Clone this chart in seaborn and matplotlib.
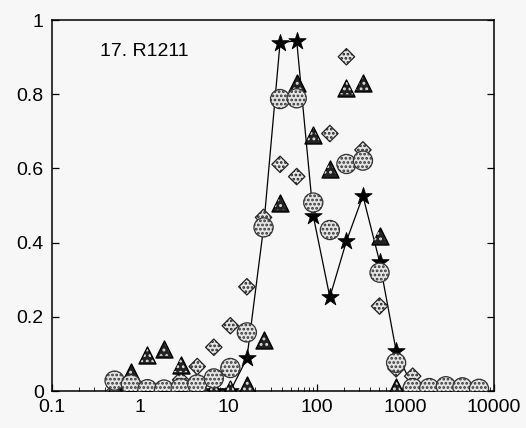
import numpy as np
import pandas as pd
import matplotlib
matplotlib.use("Agg")
import matplotlib.pyplot as plt
import seaborn as sns
from matplotlib.ticker import FixedLocator, FixedFormatter, LogLocator, NullFormatter

# ---- data ----
size = [0.51, 0.78, 1.2, 1.85, 2.85, 4.39, 6.76, 10.4, 16.0, 24.7, 38.0, 58.6,
        90.2, 139, 214, 329, 507, 781, 1202, 1851, 2851, 4390, 6761]
circles = [0.028, 0.018, 0.005, 0.004, 0.008, 0.018, 0.034, 0.062, 0.158, 0.441, 0.787, 0.789,
           0.508, 0.434, 0.612, 0.621, 0.319, 0.076, 0.008, 0.008, 0.013, 0.010, 0.006]
triangles = [0.01, 0.05, 0.096, 0.113, 0.069, 0.004, 0.006, 0.006, 0.016, 0.137, 0.506, 0.829,
             0.690, 0.598, 0.818, 0.829, 0.418, 0.01, 0.004, 0.004, 0.004, 0.004, 0.004]
diamonds = [0.0, 0.005, 0.002, 0.002, 0.03, 0.066, 0.118, 0.176, 0.281, 0.468, 0.611, 0.578,
            0.50, 0.694, 0.901, 0.650, 0.229, 0.06, 0.040, 0.005, 0.005, 0.005, 0.005]
stars = [0.005, 0.0, 0.0, 0.0, 0.0, 0.0, 0.0, 0.0, 0.088, 0.44, 0.939, 0.944,
         0.472, 0.253, 0.404, 0.526, 0.349, 0.108, 0.01, 0.005, 0.005, 0.005, 0.005]
x_ticks = [0.1, 1, 10, 100, 1000, 10000]
x_labels = ["0.1", "1", "10", "100", "1000", "10000"]
y_ticks = [0, 0.2, 0.4, 0.6, 0.8, 1.0]
y_labels = ["0", "0.2", "0.4", "0.6", "0.8", "1"]
title = "17. R1211"

sns.set_style("ticks")
plt.rcParams["font.family"] = ["Liberation Sans", "DejaVu Sans"]
plt.rcParams["hatch.linewidth"] = 1.3

bg = "#f7f7f7"
fig = plt.figure(figsize=(5.26, 4.28), dpi=100, facecolor=bg)
ax = fig.add_axes([0.0989, 0.0864, 0.8403, 0.8668])
ax.set_facecolor(bg)

df = pd.DataFrame({"size": size, "circles": circles, "triangles": triangles,
                   "diamonds": diamonds, "stars": stars})

# connecting line through the star series
sns.lineplot(data=df, x="size", y="stars", ax=ax, color="black", linewidth=0.9,
             zorder=1, legend=False)

sns.scatterplot(data=df, x="size", y="stars", ax=ax, marker="*", s=170,
                color="black", edgecolor="black", linewidth=0.6, zorder=2, legend=False)
sns.scatterplot(data=df, x="size", y="diamonds", ax=ax, marker="D", s=70,
                color="#e6e6e6", edgecolor="#222222", linewidth=0.9, zorder=3, legend=False)
ax.collections[-1].set_hatch("....")
# triangles: dark body with light dots
sns.scatterplot(data=df, x="size", y="triangles", ax=ax, marker="^", s=150,
                color="#222222", edgecolor="black", linewidth=1.0, zorder=4, legend=False)
sns.scatterplot(data=df, x="size", y="triangles", ax=ax, marker="^", s=95,
                color="none", edgecolor="#dddddd", linewidth=0, zorder=4.1, legend=False)
ax.collections[-1].set_hatch("...")
sns.scatterplot(data=df, x="size", y="circles", ax=ax, marker="o", s=190,
                color="#e4e4e4", edgecolor="#333333", linewidth=0.9, zorder=5, legend=False)
ax.collections[-1].set_hatch("....")

ax.set_xscale("log")
ax.set_xlim(0.1, 10000)
ax.set_ylim(0, 1)
ax.xaxis.set_major_locator(FixedLocator(x_ticks))
ax.xaxis.set_major_formatter(FixedFormatter(x_labels))
ax.xaxis.set_minor_locator(LogLocator(base=10, subs=np.arange(2, 10)))
ax.xaxis.set_minor_formatter(NullFormatter())
ax.yaxis.set_major_locator(FixedLocator(y_ticks))
ax.yaxis.set_major_formatter(FixedFormatter(y_labels))

ax.tick_params(axis="both", which="major", direction="in", length=5, width=0.9,
               labelsize=14, colors="black", pad=6)
ax.tick_params(axis="x", which="minor", direction="in", length=3, width=0.7)
ax.tick_params(axis="y", right=True, direction="in")
ax.set_xlabel("")
ax.set_ylabel("")
for sp in ax.spines.values():
    sp.set_visible(True)
    sp.set_linewidth(1.1)
    sp.set_color("black")

ax.text(0.35, 0.914, title, fontsize=14, ha="left", va="center", color="black")

fig.savefig("out.png", dpi=100, facecolor=bg)
